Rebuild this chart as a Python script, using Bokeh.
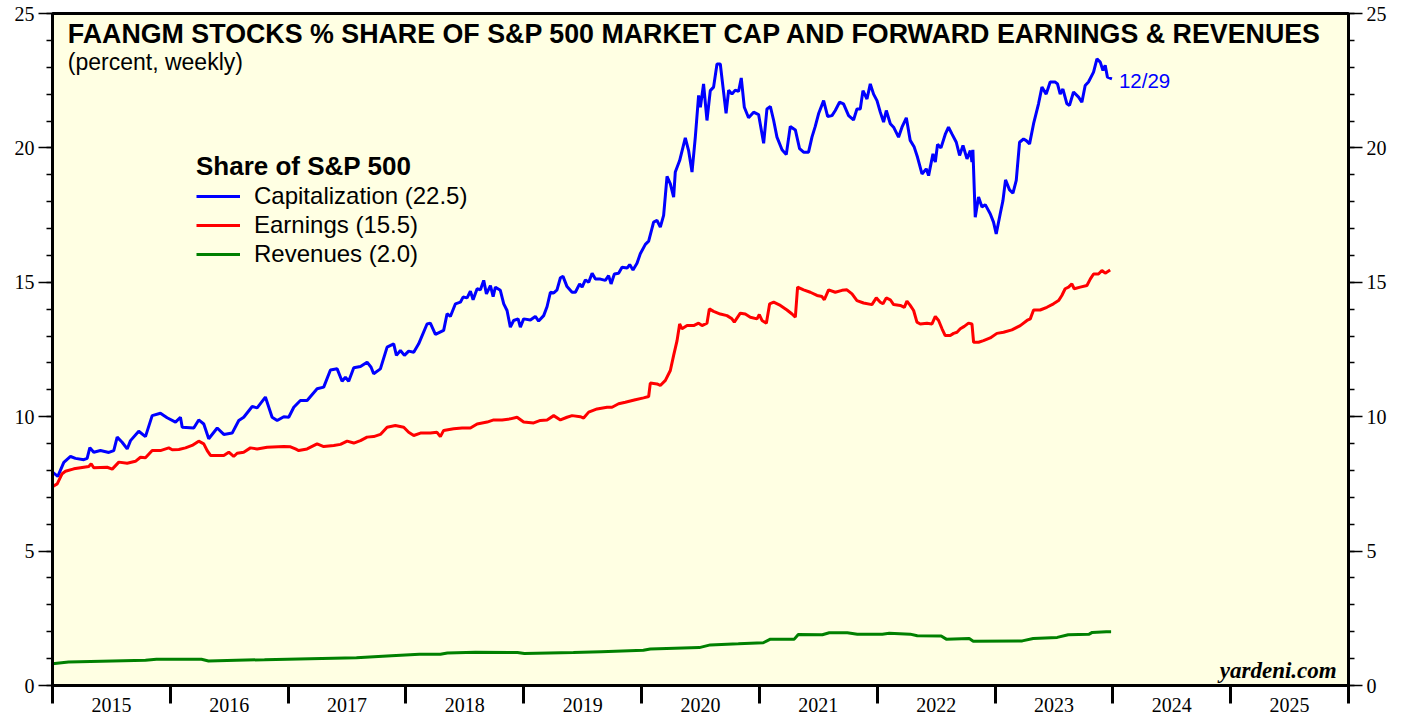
from bokeh.plotting import figure
from bokeh.models import (FixedTicker, LinearAxis, Range1d, Label, Legend, LegendItem,
                          CustomJSTickFormatter)
from bokeh.embed import file_html
from bokeh.resources import INLINE

# ---------------- data (decimal years, percent) ----------------
cap_t = [0.000, 0.045, 0.096, 0.153, 0.195, 0.266, 0.294, 0.317, 0.350, 0.407, 0.478, 0.520, 0.549, 0.591,
         0.634, 0.662, 0.732, 0.789, 0.846, 0.916, 0.973, 1.044, 1.086, 1.101, 1.199, 1.241, 1.284, 1.326,
         1.398, 1.454, 1.525, 1.581, 1.623, 1.695, 1.737, 1.807, 1.864, 1.907, 1.963, 2.005, 2.048, 2.104,
         2.161, 2.246, 2.302, 2.359, 2.416, 2.458, 2.486, 2.514, 2.557, 2.614, 2.670, 2.704, 2.726, 2.783,
         2.840, 2.896, 2.919, 2.953, 2.987, 3.023, 3.066, 3.108, 3.179, 3.207, 3.250, 3.320, 3.349, 3.377,
         3.420, 3.462, 3.485, 3.519, 3.547, 3.570, 3.604, 3.632, 3.660, 3.683, 3.717, 3.740, 3.759, 3.801,
         3.830, 3.858, 3.886, 3.914, 3.952, 3.971, 3.999, 4.056, 4.098, 4.126, 4.169, 4.198, 4.226, 4.254,
         4.282, 4.311, 4.333, 4.367, 4.410, 4.438, 4.474, 4.495, 4.523, 4.551, 4.580, 4.608, 4.650, 4.692,
         4.720, 4.741, 4.769, 4.805, 4.834, 4.877, 4.899, 4.927, 4.961, 4.989, 5.032, 5.060, 5.102, 5.131,
         5.159, 5.187, 5.216, 5.244, 5.272, 5.286, 5.323, 5.371, 5.399, 5.428, 5.456, 5.484, 5.499, 5.526,
         5.555, 5.583, 5.611, 5.640, 5.668, 5.691, 5.717, 5.739, 5.767, 5.795, 5.823, 5.846, 5.872, 5.908,
         5.951, 5.993, 6.036, 6.064, 6.093, 6.121, 6.149, 6.192, 6.228, 6.262, 6.305, 6.341, 6.375, 6.417,
         6.446, 6.474, 6.502, 6.545, 6.579, 6.616, 6.644, 6.680, 6.714, 6.757, 6.799, 6.828, 6.856, 6.879,
         6.913, 6.941, 6.969, 6.998, 7.026, 7.054, 7.077, 7.111, 7.139, 7.181, 7.210, 7.247, 7.280, 7.314,
         7.342, 7.380, 7.416, 7.436, 7.473, 7.493, 7.512, 7.541, 7.577, 7.605, 7.634, 7.671, 7.699, 7.728,
         7.762, 7.790, 7.804, 7.812, 7.832, 7.860, 7.889, 7.917, 7.959, 7.987, 8.010, 8.044, 8.067, 8.089,
         8.123, 8.152, 8.180, 8.208, 8.242, 8.265, 8.293, 8.327, 8.369, 8.398, 8.434, 8.468, 8.511, 8.530,
         8.553, 8.576, 8.610, 8.632, 8.666, 8.709, 8.737, 8.765, 8.793, 8.836, 8.865, 8.893, 8.916, 8.935,
         8.954, 8.992]
cap_v = [7.94, 7.78, 8.30, 8.52, 8.45, 8.40, 8.45, 8.85, 8.68, 8.74, 8.67, 8.74, 9.24, 9.05,
         8.80, 9.11, 9.46, 9.26, 10.04, 10.13, 9.96, 9.80, 9.98, 9.61, 9.58, 9.88, 9.73, 9.18,
         9.58, 9.34, 9.39, 9.86, 9.98, 10.38, 10.33, 10.73, 9.98, 9.86, 10.00, 9.98, 10.35, 10.60,
         10.60, 11.04, 11.10, 11.74, 11.78, 11.32, 11.47, 11.32, 11.82, 11.87, 12.03, 11.84, 11.60, 11.78,
         12.59, 12.71, 12.28, 12.46, 12.28, 12.44, 12.40, 12.71, 13.45, 13.48, 13.06, 13.21, 13.83, 13.73,
         14.20, 14.26, 14.45, 14.42, 14.67, 14.35, 14.76, 14.72, 15.07, 14.57, 14.88, 14.47, 14.82, 14.70,
         14.20, 13.95, 13.33, 13.58, 13.64, 13.33, 13.64, 13.60, 13.73, 13.56, 13.76, 14.10, 14.63, 14.60,
         14.72, 15.17, 15.22, 14.84, 14.63, 14.63, 14.94, 14.82, 15.09, 15.00, 15.34, 15.12, 15.12, 15.07,
         15.25, 14.94, 15.31, 15.34, 15.56, 15.53, 15.66, 15.46, 15.71, 16.06, 16.41, 16.53, 17.24, 17.30,
         17.05, 17.49, 18.94, 18.66, 18.17, 19.10, 19.53, 20.37, 19.90, 19.10, 20.40, 21.95, 21.51, 22.38,
         21.02, 22.13, 22.26, 23.12, 23.12, 22.26, 21.29, 22.15, 22.00, 22.15, 22.10, 22.60, 21.51, 21.12,
         21.33, 21.24, 20.17, 21.45, 21.54, 21.02, 20.40, 19.93, 19.75, 20.80, 20.67, 19.97, 19.84, 19.84,
         20.40, 20.80, 21.27, 21.76, 21.17, 21.20, 21.39, 21.70, 21.64, 21.20, 21.04, 21.45, 21.45, 22.13,
         21.82, 22.38, 22.00, 21.76, 21.33, 20.96, 21.39, 20.90, 20.77, 20.40, 20.77, 21.12, 20.28, 20.03,
         19.65, 19.03, 19.22, 18.97, 19.78, 19.47, 20.13, 20.00, 20.50, 20.77, 20.52, 20.21, 19.72, 20.09,
         19.59, 19.90, 19.47, 19.93, 17.42, 18.17, 17.80, 17.89, 17.55, 17.24, 16.80, 17.55, 18.04, 18.81,
         18.44, 18.32, 18.79, 20.21, 20.33, 20.27, 20.15, 20.90, 21.64, 22.26, 22.00, 22.45, 22.45, 22.38,
         22.00, 22.19, 21.64, 21.58, 22.08, 21.89, 21.70, 22.32, 22.45, 22.82, 23.31, 23.19, 22.88, 23.07,
         22.63, 22.57]

earn_t = [0.000, 0.040, 0.082, 0.110, 0.181, 0.266, 0.308, 0.328, 0.350, 0.464, 0.507, 0.563, 0.634, 0.704,
          0.747, 0.789, 0.846, 0.916, 0.987, 1.016, 1.072, 1.129, 1.185, 1.241, 1.284, 1.313, 1.341, 1.454,
          1.496, 1.538, 1.567, 1.623, 1.680, 1.737, 1.822, 1.963, 2.020, 2.062, 2.090, 2.161, 2.246, 2.302,
          2.387, 2.444, 2.501, 2.557, 2.614, 2.670, 2.726, 2.783, 2.840, 2.910, 2.981, 3.023, 3.066, 3.123,
          3.207, 3.264, 3.292, 3.320, 3.405, 3.476, 3.547, 3.604, 3.689, 3.745, 3.816, 3.886, 3.943, 3.999,
          4.084, 4.141, 4.198, 4.254, 4.311, 4.367, 4.410, 4.480, 4.508, 4.551, 4.622, 4.707, 4.749, 4.805,
          4.862, 4.947, 5.017, 5.060, 5.074, 5.131, 5.159, 5.202, 5.244, 5.272, 5.301, 5.323, 5.343, 5.386,
          5.442, 5.484, 5.513, 5.555, 5.575, 5.611, 5.668, 5.725, 5.767, 5.787, 5.838, 5.880, 5.923, 5.980,
          5.999, 6.022, 6.059, 6.087, 6.121, 6.178, 6.234, 6.277, 6.305, 6.324, 6.375, 6.432, 6.489, 6.531,
          6.551, 6.587, 6.644, 6.701, 6.743, 6.786, 6.828, 6.884, 6.955, 6.992, 7.026, 7.049, 7.077, 7.111,
          7.139, 7.196, 7.230, 7.252, 7.280, 7.309, 7.337, 7.365, 7.422, 7.465, 7.493, 7.521, 7.550, 7.577,
          7.620, 7.648, 7.677, 7.705, 7.739, 7.775, 7.804, 7.818, 7.860, 7.902, 7.959, 8.016, 8.072, 8.143,
          8.214, 8.271, 8.299, 8.327, 8.383, 8.440, 8.496, 8.539, 8.567, 8.595, 8.624, 8.652, 8.672, 8.723,
          8.780, 8.808, 8.836, 8.878, 8.907, 8.935, 8.977]
earn_v = [7.40, 7.50, 7.88, 7.97, 8.06, 8.12, 8.15, 8.25, 8.10, 8.12, 8.05, 8.31, 8.27, 8.34,
          8.49, 8.47, 8.74, 8.74, 8.84, 8.77, 8.78, 8.84, 8.93, 9.09, 8.99, 8.74, 8.56, 8.56,
          8.68, 8.52, 8.64, 8.68, 8.84, 8.80, 8.86, 8.89, 8.88, 8.80, 8.74, 8.80, 8.99, 8.89,
          8.93, 8.97, 9.09, 9.02, 9.11, 9.24, 9.26, 9.34, 9.61, 9.67, 9.61, 9.42, 9.30, 9.39,
          9.39, 9.42, 9.26, 9.49, 9.55, 9.58, 9.58, 9.73, 9.80, 9.88, 9.88, 9.92, 9.98, 9.80,
          9.77, 9.86, 9.88, 10.04, 9.88, 9.98, 10.04, 10.00, 9.95, 10.17, 10.29, 10.35, 10.35, 10.48,
          10.54, 10.63, 10.70, 10.75, 11.25, 11.22, 11.16, 11.35, 11.72, 12.28, 12.83, 13.45, 13.27, 13.39,
          13.39, 13.48, 13.39, 13.48, 14.01, 13.92, 13.82, 13.76, 13.64, 13.52, 13.85, 13.82, 13.70, 13.64,
          13.80, 13.58, 13.48, 14.20, 14.26, 14.14, 13.97, 13.82, 13.70, 14.82, 14.72, 14.63, 14.51, 14.47,
          14.35, 14.72, 14.63, 14.70, 14.72, 14.57, 14.32, 14.23, 14.17, 14.42, 14.26, 14.20, 14.42, 14.35,
          14.17, 14.14, 14.07, 14.30, 14.14, 13.95, 13.52, 13.45, 13.48, 13.45, 13.73, 13.58, 13.27, 13.02,
          13.02, 13.10, 13.14, 13.27, 13.36, 13.48, 13.45, 12.77, 12.77, 12.83, 12.93, 13.10, 13.14, 13.23,
          13.39, 13.58, 13.64, 13.97, 13.97, 14.07, 14.20, 14.32, 14.51, 14.76, 14.82, 14.94, 14.76, 14.82,
          14.88, 15.12, 15.31, 15.31, 15.44, 15.34, 15.46]

rev_t = [0.000, 0.136, 0.789, 0.882, 1.264, 1.324, 1.561, 1.799, 2.580, 2.877, 3.114, 3.292, 3.352, 3.589,
         3.946, 4.005, 4.421, 4.658, 5.015, 5.074, 5.490, 5.583, 5.821, 6.033, 6.093, 6.296, 6.330, 6.534,
         6.593, 6.746, 6.831, 7.043, 7.102, 7.280, 7.340, 7.543, 7.586, 7.781, 7.815, 8.231, 8.324, 8.528,
         8.621, 8.799, 8.825, 8.944, 8.985]
rev_v = [0.81, 0.875, 0.94, 0.975, 0.975, 0.91, 0.94, 0.96, 1.03, 1.11, 1.16, 1.16, 1.21, 1.24,
         1.225, 1.19, 1.225, 1.26, 1.31, 1.36, 1.41, 1.51, 1.55, 1.59, 1.725, 1.725, 1.90, 1.89,
         1.96, 1.96, 1.91, 1.91, 1.94, 1.91, 1.85, 1.84, 1.725, 1.75, 1.65, 1.66, 1.75, 1.79,
         1.89, 1.91, 1.975, 2.00, 2.00]

BASE_YEAR = 2015
year_labels = ["2015", "2016", "2017", "2018", "2019", "2020", "2021", "2022", "2023", "2024", "2025"]
y_ticks = [0, 5, 10, 15, 20, 25]
series_labels = ["Capitalization (22.5)", "Earnings (15.5)", "Revenues (2.0)"]
last_date_label = "12/29"

cap_x = [BASE_YEAR + t for t in cap_t]
earn_x = [BASE_YEAR + t for t in earn_t]
rev_x = [BASE_YEAR + t for t in rev_t]

# ---------------- figure ----------------
BG = "#FFFFE3"
SERIF = "Liberation Serif"
SANS = "Liberation Sans"

p = figure(width=1407, height=719, output_backend="svg", toolbar_location=None,
           x_range=Range1d(2015, 2026), y_range=Range1d(0, 25),
           x_axis_type=None, y_axis_type=None,
           min_border_left=52, min_border_right=59, min_border_top=13, min_border_bottom=34)
p.background_fill_color = BG
p.border_fill_color = "white"
p.outline_line_color = "black"
p.outline_line_width = 3
p.xgrid.visible = False
p.ygrid.visible = False

# x axis: year boundaries as ticks, labels centred between them
year_starts = list(range(2015, 2027))
year_mids = [y + 0.5 for y in range(2015, 2026)]
xaxis = LinearAxis(ticker=FixedTicker(ticks=year_mids, minor_ticks=year_starts),
                   formatter=CustomJSTickFormatter(code="return String(Math.floor(tick));"))
xaxis.axis_line_width = 3
xaxis.major_tick_out = 0
xaxis.major_tick_in = 0
xaxis.minor_tick_out = 18
xaxis.minor_tick_in = 0
xaxis.minor_tick_line_width = 3
xaxis.minor_tick_line_color = "black"
xaxis.major_label_standoff = -6
xaxis.major_label_text_font = SERIF
xaxis.major_label_text_font_size = "20px"
xaxis.major_label_text_color = "black"
p.add_layout(xaxis, "below")

minor_y = list(range(0, 26))
for side in ("left", "right"):
    ax = LinearAxis(ticker=FixedTicker(ticks=y_ticks, minor_ticks=minor_y))
    ax.axis_line_width = 3
    ax.major_tick_out = 14
    ax.major_tick_in = 0
    ax.major_tick_line_width = 1.5
    ax.minor_tick_out = 6
    ax.minor_tick_in = 0
    ax.minor_tick_line_width = 1.5
    ax.minor_tick_line_color = "black"
    ax.major_label_standoff = 4
    ax.major_label_text_font = SERIF
    ax.major_label_text_font_size = "20px"
    ax.major_label_text_color = "black"
    p.add_layout(ax, side)

r_cap = p.line(cap_x, cap_v, line_color="#0000FF", line_width=3)
r_earn = p.line(earn_x, earn_v, line_color="#FF0000", line_width=3)
r_rev = p.line(rev_x, rev_v, line_color="#008000", line_width=3)

legend = Legend(items=[LegendItem(label=series_labels[0], renderers=[r_cap]),
                       LegendItem(label=series_labels[1], renderers=[r_earn]),
                       LegendItem(label=series_labels[2], renderers=[r_rev])],
                location=(144, 417), margin=0, padding=0,
                title="Share of S&P 500", title_text_font=SANS, title_text_font_style="bold",
                title_text_font_size="26px", title_standoff=0, title_text_color="black",
                label_text_font=SANS, label_text_font_size="24px", label_standoff=14,
                label_text_color="black",
                glyph_width=44, glyph_height=22, label_height=22, spacing=1,
                background_fill_alpha=0, border_line_alpha=0)
p.add_layout(legend)

p.add_layout(Label(x=2015.13, y=24.25, text="FAANGM STOCKS % SHARE OF S&P 500 MARKET CAP AND FORWARD EARNINGS & REVENUES",
                   text_font=SANS, text_font_style="bold", text_font_size="26.8px",
                   text_baseline="middle", text_color="black"))
p.add_layout(Label(x=2015.13, y=23.18, text="(percent, weekly)",
                   text_font=SANS, text_font_size="23px",
                   text_baseline="middle", text_color="black"))
p.add_layout(Label(x=cap_x[-1], y=cap_v[-1], x_offset=7, y_offset=-2, text=last_date_label,
                   text_font=SANS, text_font_size="20.5px", text_baseline="middle",
                   text_color="#0000FF"))
p.add_layout(Label(x=2025.9, y=0.55, text="yardeni.com",
                   text_font=SERIF, text_font_style="bold italic", text_font_size="23px",
                   text_align="right", text_baseline="middle", text_color="black"))

open("out.html", "w").write(file_html(p, INLINE))
